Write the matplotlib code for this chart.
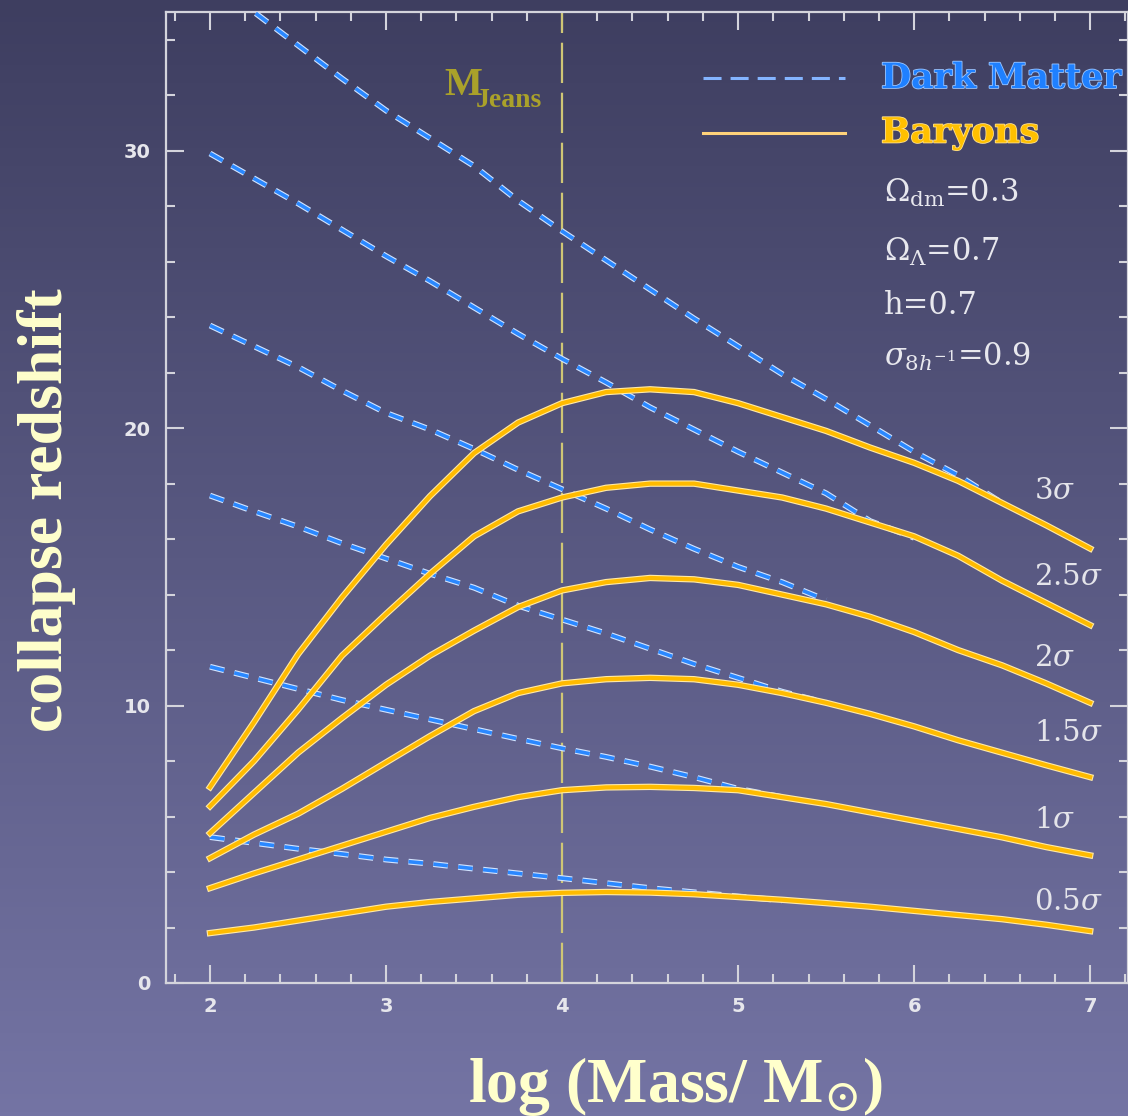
import numpy as np
import matplotlib
matplotlib.use("Agg")
import matplotlib.pyplot as plt
from matplotlib import patheffects as pe

plt.rcParams['mathtext.fontset'] = 'dejavuserif'
plt.rcParams['lines.scale_dashes'] = False

# ---------------- data ----------------
log_mass = [2.0, 2.25, 2.5, 2.75, 3.0, 3.25, 3.5, 3.75, 4.0, 4.25, 4.5,
            4.75, 5.0, 5.25, 5.5, 5.75, 6.0, 6.25, 6.5, 6.75, 7.0]

sigma_labels = ['3$\\sigma$', '2.5$\\sigma$', '2$\\sigma$', '1.5$\\sigma$', '1$\\sigma$', '0.5$\\sigma$']
sigma_label_y = [17.75, 14.62, 11.70, 9.0, 5.87, 2.92]

baryon_3 = [7.06, 9.4, 11.85, 13.9, 15.8, 17.55, 19.1, 20.2, 20.9, 21.3, 21.4,
            21.3, 20.9, 20.4, 19.9, 19.3, 18.75, 18.1, 17.3, 16.5, 15.66]
baryon_25 = [6.37, 8.0, 9.85, 11.8, 13.3, 14.75, 16.1, 17.0, 17.5, 17.85, 18.0,
             18.0, 17.75, 17.5, 17.1, 16.6, 16.1, 15.4, 14.5, 13.7, 12.9]
baryon_2 = [5.4, 6.85, 8.3, 9.55, 10.75, 11.8, 12.7, 13.55, 14.15, 14.45, 14.6,
            14.55, 14.35, 14.0, 13.65, 13.2, 12.65, 12.0, 11.45, 10.8, 10.1]
baryon_15 = [4.5, 5.35, 6.1, 7.0, 7.95, 8.9, 9.8, 10.45, 10.8, 10.95, 11.0,
             10.95, 10.75, 10.45, 10.1, 9.7, 9.25, 8.75, 8.3, 7.85, 7.42]
baryon_1 = [3.42, 3.95, 4.45, 4.95, 5.45, 5.95, 6.35, 6.7, 6.95, 7.05, 7.07,
            7.03, 6.95, 6.7, 6.45, 6.15, 5.85, 5.55, 5.25, 4.9, 4.6]
baryon_05 = [1.8, 2.0, 2.25, 2.5, 2.75, 2.92, 3.05, 3.18, 3.25, 3.28, 3.26,
             3.2, 3.1, 3.0, 2.88, 2.75, 2.6, 2.45, 2.3, 2.1, 1.87]

dm_3 = [36.1, 35.0, 33.8, 32.6, 31.45, 30.45, 29.45, 28.2, 27.1, 26.05, 25.0,
        23.95, 22.95, 21.95, 21.05, 20.1, 19.15, 18.3, 17.3]
dm_25 = [29.9, 29.0, 28.1, 27.15, 26.2, 25.3, 24.35, 23.4, 22.5, 21.65, 20.75,
         19.95, 19.15, 18.4, 17.65, 16.65, 16.05]
dm_2 = [23.7, 22.95, 22.2, 21.35, 20.55, 19.95, 19.25, 18.5, 17.8, 17.1, 16.35,
        15.65, 15.0, 14.45, 13.8]
dm_15 = [17.57, 17.0, 16.45, 15.85, 15.3, 14.75, 14.25, 13.6, 13.1, 12.6, 12.05,
         11.5, 11.0, 10.5, 10.1]
dm_1 = [11.4, 11.0, 10.6, 10.2, 9.85, 9.5, 9.15, 8.8, 8.46, 8.15, 7.8,
        7.42, 7.0, 6.7]
dm_05 = [5.26, 5.05, 4.84, 4.65, 4.45, 4.3, 4.12, 3.95, 3.78, 3.6, 3.42,
         3.27, 3.12, 2.98]

baryons = [baryon_3, baryon_25, baryon_2, baryon_15, baryon_1, baryon_05]
dark_matter = [dm_3, dm_25, dm_2, dm_15, dm_1, dm_05]

m_jeans = 4.0
x_ticks = [2, 3, 4, 5, 6, 7]
x_ticklabels = ['2', '3', '4', '5', '6', '7']
y_ticks = [0, 10, 20, 30]
y_ticklabels = ['0', '10', '20', '30']
params = ['$\\Omega_{\\rm dm}$=0.3', '$\\Omega_{\\Lambda}$=0.7', 'h=0.7', '$\\sigma_{8h^{-1}}$=0.9']

# ---------------- figure ----------------
W, H = 1128, 1116
fig = plt.figure(figsize=(W / 100, H / 100), dpi=100)

# gradient background
bg = fig.add_axes([0, 0, 1, 1], zorder=-10)
top = np.array([0x3e, 0x3e, 0x60]) / 255
bot = np.array([0x74, 0x74, 0xa4]) / 255
t = np.linspace(0, 1, 256)[:, None]
grad = top[None, :] * (1 - t) + bot[None, :] * t
bg.imshow(grad[:, None, :], aspect='auto', extent=[0, 1, 0, 1])
bg.axis('off')

def fx(px):
    return px / W

def fy(py):
    return 1 - py / H

ax = fig.add_axes([fx(166), fy(983), fx(1128) - fx(166), fy(12) - fy(983)])
ax.set_facecolor('none')
ax.set_xlim(1.75, 7.215)
ax.set_ylim(0, 35)

spine_col = '#d4d4dc'
for s in ax.spines.values():
    s.set_color(spine_col)
    s.set_linewidth(1.6)

ax.set_xticks(x_ticks)
ax.set_xticklabels(x_ticklabels)
ax.set_yticks(y_ticks)
ax.set_yticklabels(y_ticklabels)
ax.set_xticks(np.arange(1.8, 7.21, 0.2), minor=True)
ax.set_yticks(np.arange(0, 35.1, 2), minor=True)
ax.tick_params(which='both', direction='in', top=True, right=True, color=spine_col, width=1.5)
ax.tick_params(which='major', length=13)
ax.tick_params(which='minor', length=6.5)
ax.tick_params(axis='x', which='major', pad=10, labelsize=14, labelcolor='#e6e6ec')
ax.tick_params(axis='y', which='major', pad=11, labelsize=14, labelcolor='#e6e6ec')
for lab in ax.get_xticklabels() + ax.get_yticklabels():
    lab.set_fontweight('bold')
    lab.set_family('DejaVu Sans')

# Jeans mass line
ax.axvline(m_jeans, color='#cfc675', lw=1.6, dashes=(29, 7), zorder=2)

# dark matter curves (pale outline + blue core, same dash pattern)
for ys in dark_matter:
    xs = log_mass[:len(ys)]
    ax.plot(xs, ys, color='#d2e4ff', lw=4.2, dashes=(10.5, 7.5), zorder=3,
            dash_capstyle='butt')
    ax.plot(xs, ys, color='#2a88ff', lw=2.6, dashes=(10.5, 7.5), zorder=3.1,
            dash_capstyle='butt')

# baryon curves
b_effects = [pe.Stroke(linewidth=4.6, foreground='#ffeaa6'), pe.Normal()]
for ys in baryons:
    ax.plot(log_mass, ys, color='#ffbb00', lw=3.0, path_effects=b_effects, zorder=4,
            solid_joinstyle='round')

# sigma labels
for lab, yv in zip(sigma_labels, sigma_label_y):
    ax.text(6.68, yv, lab, color='#e4e4ea', fontsize=21, family='DejaVu Serif',
            ha='left', va='center', zorder=5)

# M_Jeans label
ax.text(2 + (445 - 210) / 176.4, (983 - 95) / 27.74, 'M', color='#aaa12a', fontsize=29,
        family='Liberation Serif', fontweight='bold', ha='left', va='baseline')
ax.text(2 + (476 - 210) / 176.4, (983 - 107) / 27.74, 'Jeans', color='#aaa12a', fontsize=20,
        family='Liberation Serif', fontweight='bold', ha='left', va='baseline')

# legend (drawn manually)
leg_tr = fig.transFigure
fig.add_artist(plt.Line2D([fx(703), fx(845)], [fy(78), fy(78)], color='#84b4ff', lw=2.2,
                          dashes=(13, 6.5), transform=leg_tr))
fig.add_artist(plt.Line2D([fx(703), fx(845)], [fy(133), fy(133)], color='#ffd27a', lw=2.2,
                          transform=leg_tr))
fig.text(fx(881), fy(78), 'Dark Matter', color='#1f80ff', fontsize=25, family='DejaVu Serif',
         fontweight='bold', ha='left', va='center',
         path_effects=[pe.Stroke(linewidth=1.2, foreground='#9cc6ff'), pe.Normal()])
fig.text(fx(881), fy(133), 'Baryons', color='#ffc000', fontsize=25, family='DejaVu Serif',
         fontweight='bold', ha='left', va='center',
         path_effects=[pe.Stroke(linewidth=1.2, foreground='#ffe08a'), pe.Normal()])
for txt, py in zip(params, [193, 252, 305, 357]):
    fig.text(fx(884), fy(py), txt, color='#e8e8ee', fontsize=22, family='DejaVu Serif',
             ha='left', va='center')

# axis labels
fig.text(fx(675), fy(1086), 'log (Mass/ M$_{\\odot}$)', color='#ffffcc', fontsize=46,
         family='Liberation Serif', fontweight='bold', ha='center', va='center')
fig.text(fx(46), fy(510), 'collapse redshift', color='#ffffcc', fontsize=46,
         family='Liberation Serif', fontweight='bold', ha='center', va='center', rotation=90)

fig.savefig('out.png', dpi=100)
